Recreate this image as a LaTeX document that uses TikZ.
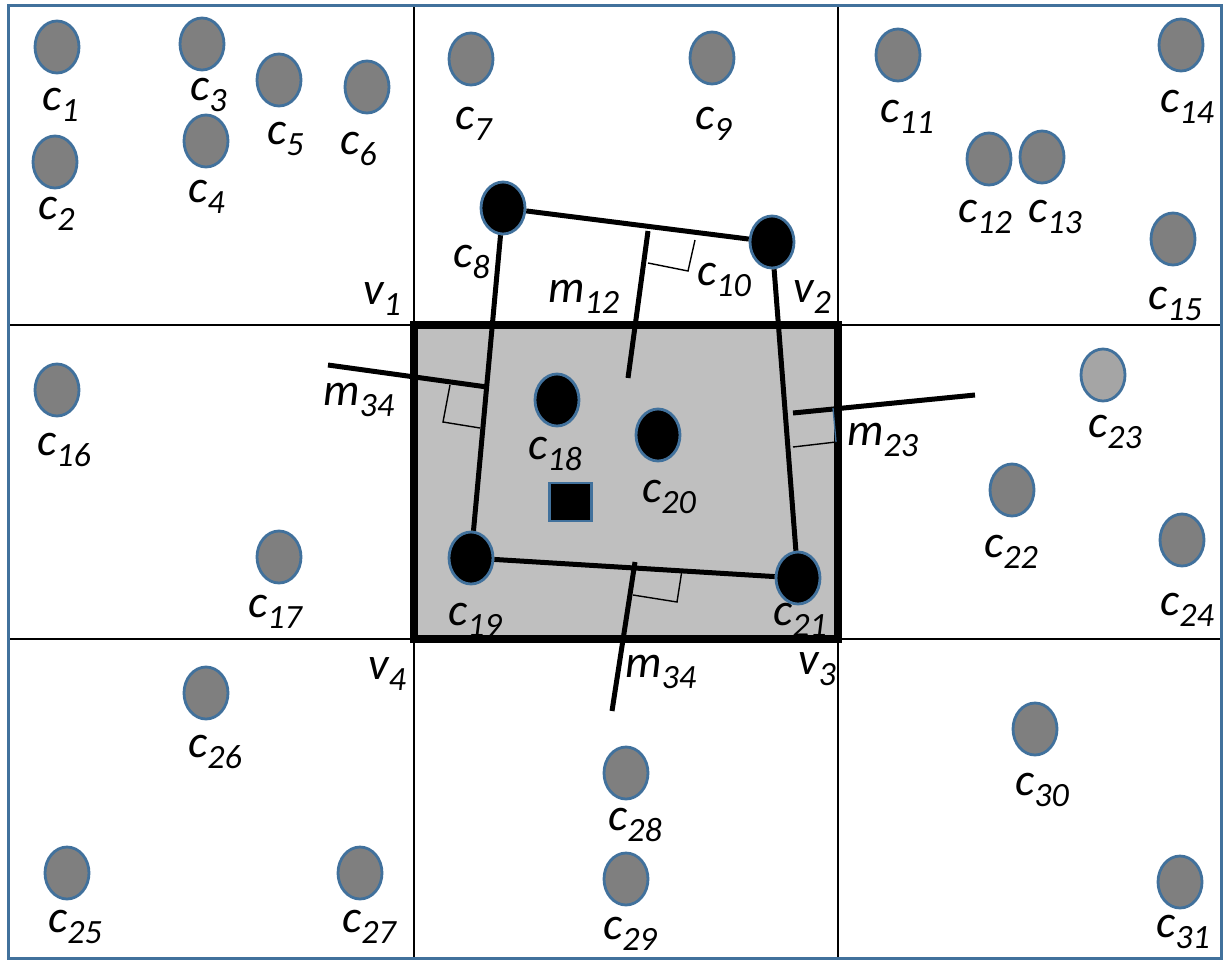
\documentclass[tikz,border=0pt]{standalone}
\usepackage{fontspec}
\setmainfont{Carlito}
\usetikzlibrary{shapes.geometric}
\definecolor{pblue}{HTML}{41719C}
\definecolor{cgray}{HTML}{7F7F7F}
\definecolor{lgray}{HTML}{A5A5A5}
\definecolor{boxgray}{HTML}{BFBFBF}
\newcommand{\lbl}[2]{{\fontsize{46}{50}\selectfont\itshape #1}\raisebox{-11pt}{\fontsize{34}{40}\selectfont\itshape #2}}
\tikzset{
  pt/.style={ellipse, draw=pblue, line width=2.8pt, fill=cgray, minimum width=44pt, minimum height=52pt, inner sep=0pt},
  hit/.style={pt, fill=black},
  lt/.style={pt, fill=lgray},
  lab/.style={anchor=base west, inner sep=0pt, text=black},
  gridline/.style={line width=1.5pt, black},
  seg/.style={line width=5pt, black},
  ra/.style={line width=1.4pt, black},
  sqpt/.style={draw=pblue, line width=2.8pt, fill=black, minimum width=42pt, minimum height=38pt, inner sep=0pt},
}
\begin{document}
\begin{tikzpicture}[x=1pt,y=-1pt]
\useasboundingbox (0,0) rectangle (1225,961);
\fill[white] (0,0) rectangle (1225,961);
% central cell fill
\fill[boxgray] (414,325) rectangle (838,639);
% grid
\draw[gridline] (8,325) -- (1221,325);
\draw[gridline] (8,639) -- (1221,639);
\draw[gridline] (414,5) -- (414,958);
\draw[gridline] (838,5) -- (838,958);
\draw[pblue, line width=3pt] (8,5) rectangle (1221,958);

% points
\node[pt] (c1) at (57,47) {};
\node[pt] (c2) at (55,162) {};
\node[pt] (c3) at (202,44) {};
\node[pt] (c4) at (206,141) {};
\node[pt] (c5) at (279,80) {};
\node[pt] (c6) at (367,87) {};
\node[pt] (c7) at (471,59) {};
\node[pt] (c9) at (712,58) {};
\node[pt] (c11) at (898,55) {};
\node[pt] (c12) at (989,159) {};
\node[pt] (c13) at (1042,157) {};
\node[pt] (c14) at (1181,45) {};
\node[pt] (c15) at (1173,239) {};
\node[pt] (c16) at (57,390) {};
\node[pt] (c17) at (279,557) {};
\node[lt] (c23) at (1103,375) {};
\node[pt] (c22) at (1012,490) {};
\node[pt] (c24) at (1182,540) {};
\node[pt] (c26) at (206,693) {};
\node[pt] (c25) at (67,873) {};
\node[pt] (c27) at (360,873) {};
\node[pt] (c28) at (626,773) {};
\node[pt] (c29) at (626,879) {};
\node[pt] (c30) at (1035,729) {};
\node[pt] (c31) at (1180,882) {};
\node[hit] (c8) at (503,208) {};
\node[hit] (c10) at (772,242) {};
\node[hit] (c18) at (557,400) {};
\node[hit] (c20) at (658,435) {};
\node[hit] (c19) at (471,558) {};
\node[hit] (c21) at (798,578) {};
\node[sqpt] (sq) at (570.5,502) {};

% quadrilateral edges
\draw[seg] (c8) -- (c10);
\draw[seg] (c8) -- (c19);
\draw[seg] (c10) -- (c21);
\draw[seg] (c19) -- (c21);

% perpendiculars
\coordinate (m12a) at (648,231);
\coordinate (m12b) at (628,378);
\draw[seg] (m12a) -- (m12b);
\coordinate (m34la) at (328,365);
\coordinate (m34lb) at (487,387);
\draw[seg] (m34la) -- (m34lb);
\coordinate (m23a) at (975,395);
\coordinate (m23b) at (793,413);
\draw[seg] (m23a) -- (m23b);
\coordinate (m34ba) at (635,562);
\coordinate (m34bb) at (612,711);
\draw[seg] (m34ba) -- (m34bb);

% right-angle marks
\draw[ra] (648,263) -- (688,271) -- (695,240);
\draw[ra] (450,385) -- (443,422) -- (480,428);
\draw[ra] (633,595) -- (677,602) -- (682,570);
\draw[ra] (793,447) -- (836,442);

% labels
\node[lab] (l1) at (42,110) {\lbl{c}{1}};
\node[lab] (l2) at (38,219) {\lbl{c}{2}};
\node[lab] (l3) at (190,100) {\lbl{c}{3}};
\node[lab] (l4) at (188,202) {\lbl{c}{4}};
\node[lab] (l5) at (267,144) {\lbl{c}{5}};
\node[lab] (l6) at (340,154) {\lbl{c}{6}};
\node[lab] (lv1) at (363,304) {\lbl{v}{1}};
\node[lab] (l7) at (455,129) {\lbl{c}{7}};
\node[lab] (l9) at (695,129) {\lbl{c}{9}};
\node[lab] (l8) at (453,267) {\lbl{c}{8}};
\node[lab] (l10) at (697,285) {\lbl{c}{10}};
\node[lab] (lm12) at (548,302) {\lbl{m}{12}};
\node[lab] (lv2) at (793,302) {\lbl{v}{2}};
\node[lab] (l11) at (880,122) {\lbl{c}{11}};
\node[lab] (l12) at (958,222) {\lbl{c}{12}};
\node[lab] (l13) at (1028,222) {\lbl{c}{13}};
\node[lab] (l14) at (1160,112) {\lbl{c}{14}};
\node[lab] (l15) at (1148,309) {\lbl{c}{15}};
\node[lab] (l16) at (37,455) {\lbl{c}{16}};
\node[lab] (lm34l) at (323,405) {\lbl{m}{34}};
\node[lab] (l17) at (248,617) {\lbl{c}{17}};
\node[lab] (l18) at (528,459) {\lbl{c}{18}};
\node[lab] (l20) at (642,502) {\lbl{c}{20}};
\node[lab] (l19) at (448,625) {\lbl{c}{19}};
\node[lab] (l21) at (773,625) {\lbl{c}{21}};
\node[lab] (lm23) at (847,445) {\lbl{m}{23}};
\node[lab] (l23) at (1088,437) {\lbl{c}{23}};
\node[lab] (l22) at (984,557) {\lbl{c}{22}};
\node[lab] (l24) at (1160,615) {\lbl{c}{24}};
\node[lab] (lv4) at (368,679) {\lbl{v}{4}};
\node[lab] (lv3) at (798,674) {\lbl{v}{3}};
\node[lab] (lm34b) at (625,677) {\lbl{m}{34}};
\node[lab] (l26) at (188,757) {\lbl{c}{26}};
\node[lab] (l25) at (48,932) {\lbl{c}{25}};
\node[lab] (l27) at (342,932) {\lbl{c}{27}};
\node[lab] (l28) at (608,830) {\lbl{c}{28}};
\node[lab] (l29) at (603,939) {\lbl{c}{29}};
\node[lab] (l30) at (1015,795) {\lbl{c}{30}};
\node[lab] (l31) at (1156,937) {\lbl{c}{31}};

% thick border of the central cell
\draw[line width=8pt, black] (414,325) rectangle (838,639);
\draw[pblue, line width=1.3pt] (836,442) -- (833,408);
\end{tikzpicture}
\end{document}
